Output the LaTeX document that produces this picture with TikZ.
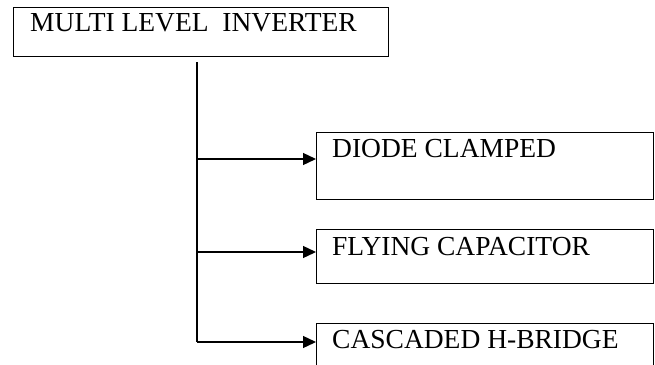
\documentclass[tikz,border=0pt]{standalone}
\usepackage{fontspec}
\setmainfont{Liberation Serif}
\usetikzlibrary{arrows.meta,calc}
\begin{document}
\begin{tikzpicture}[x=1pt,y=-1pt,
  box/.style={draw,line width=1.3pt,rectangle,inner sep=0pt,anchor=north west},
  lbl/.style={anchor=base west,inner sep=0pt,font=\fontsize{27.5}{32}\selectfont},
  arr/.style={line width=1.3pt,-{Triangle[length=13pt,width=12pt]}},
  trunk/.style={line width=1.3pt}]
\clip (0,0) rectangle (655,364);
\node[box,minimum width=375pt,minimum height=49pt] (mli) at (13,7) {};
\node[lbl] (mlit) at (30,31) {MULTI LEVEL\ \ INVERTER};
\node[box,minimum width=337pt,minimum height=67pt] (dc) at (316,132) {};
\node[lbl] (dct) at (332,157) {DIODE CLAMPED};
\node[box,minimum width=337pt,minimum height=54pt] (fc) at (316,229) {};
\node[lbl] (fct) at (332,255) {FLYING CAPACITOR};
\node[box,minimum width=337pt,minimum height=54pt] (ch) at (316,323) {};
\node[lbl] (cht) at (332,348) {CASCADED H-BRIDGE};
\coordinate (t0) at (197,62);
\coordinate (j1) at (197,159);
\coordinate (j2) at (197,252);
\coordinate (j3) at (197,342);
\draw[trunk] (t0) -- (j3);
\draw[arr] (j1) -- (j1 -| dc.west);
\draw[arr] (j2) -- (j2 -| fc.west);
\draw[arr] (j3) -- (j3 -| ch.west);
\end{tikzpicture}
\end{document}
